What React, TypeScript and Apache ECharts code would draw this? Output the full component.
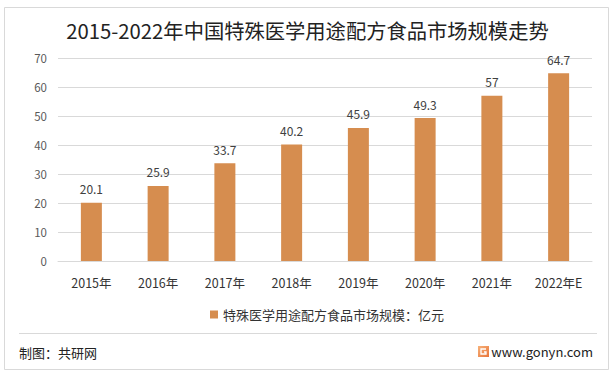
import React, { useEffect, useRef } from "react";
import * as echarts from "echarts";

const categories = ["2015年", "2016年", "2017年", "2018年", "2019年", "2020年", "2021年", "2022年E"];
const values = [20.1, 25.9, 33.7, 40.2, 45.9, 49.3, 57, 64.7];
const yTicks = [0, 10, 20, 30, 40, 50, 60, 70];
const seriesName = "特殊医学用途配方食品市场规模：亿元";
const titleText = "2015-2022年中国特殊医学用途配方食品市场规模走势";
const sourceText = "制图：共研网";
const siteText = "www.gonyn.com";

const FONT = "'Noto Sans CJK SC', 'Noto Sans', sans-serif";

export default function App() {
  const ref = useRef<HTMLDivElement>(null);
  useEffect(() => {
    if (!ref.current) return;
    const chart = echarts.init(ref.current, null, { renderer: "svg" });
    chart.setOption({
      animation: false,
      backgroundColor: "#ffffff",
      textStyle: { fontFamily: FONT },
      title: {
        text: titleText,
        left: "center",
        top: 15,
        textStyle: { fontFamily: FONT, fontSize: 20.3, fontWeight: "normal", color: "#222222" },
      },
      grid: { left: 58, right: 23, top: 58, bottom: 117, containLabel: false },
      xAxis: {
        type: "category",
        data: categories,
        axisLine: { show: true, lineStyle: { color: "#d9d9d9" } },
        axisTick: { show: false },
        axisLabel: { color: "#333333", fontSize: 12.5, margin: 15, fontFamily: FONT },
      },
      yAxis: {
        type: "value",
        min: yTicks[0],
        max: yTicks[yTicks.length - 1],
        interval: 10,
        axisLine: { show: false },
        axisTick: { show: false },
        splitLine: { lineStyle: { color: "#d9d9d9" } },
        axisLabel: { color: "#595959", fontSize: 11.5, margin: 11, fontFamily: FONT },
      },
      legend: {
        data: [seriesName],
        bottom: 52,
        left: 205,
        itemWidth: 8,
        itemHeight: 8,
        itemGap: 4,
        icon: "rect",
        textStyle: { color: "#333333", fontSize: 13, fontFamily: FONT },
      },
      series: [
        {
          name: seriesName,
          type: "bar",
          data: values,
          barWidth: 21,
          itemStyle: { color: "#D68D4F" },
          label: {
            show: true,
            position: "top",
            distance: 8,
            color: "#404040",
            fontSize: 12,
            fontFamily: FONT,
          },
        },
      ],
      graphic: [
        {
          type: "rect",
          shape: { x: 4.5, y: 7.5, width: 604, height: 362 },
          style: { fill: "none", stroke: "#d9d9d9", lineWidth: 1 },
          silent: true,
        },
        {
          type: "line",
          shape: { x1: 19, y1: 333.5, x2: 597, y2: 333.5 },
          style: { stroke: "#d9d9d9", lineWidth: 1 },
          silent: true,
        },
        {
          type: "text",
          x: 19,
          y: 352,
          style: { text: sourceText, fill: "#222222", fontSize: 13, fontFamily: FONT, verticalAlign: "middle" },
        },
        {
          type: "rect",
          shape: { x: 478, y: 346, width: 11, height: 11 },
          style: {
            fill: new echarts.graphic.LinearGradient(0, 0, 1, 1, [
              { offset: 0, color: "#f7b27a" },
              { offset: 1, color: "#e8743a" },
            ]),
          },
        },
        {
          type: "polyline",
          shape: { points: [[486, 349], [481, 349], [481, 354], [486, 354], [486, 352], [484, 352]] },
          style: { stroke: "#ffffff", lineWidth: 1.3, fill: "none" },
        },
        {
          type: "text",
          x: 593,
          y: 351,
          style: { text: siteText, fill: "#222222", fontSize: 13, fontFamily: FONT, align: "right", verticalAlign: "middle" },
        },
      ],
    });
    return () => chart.dispose();
  }, []);
  return <div ref={ref} style={{ width: 615, height: 378, position: "absolute", left: 0, top: 0 }} />;
}
